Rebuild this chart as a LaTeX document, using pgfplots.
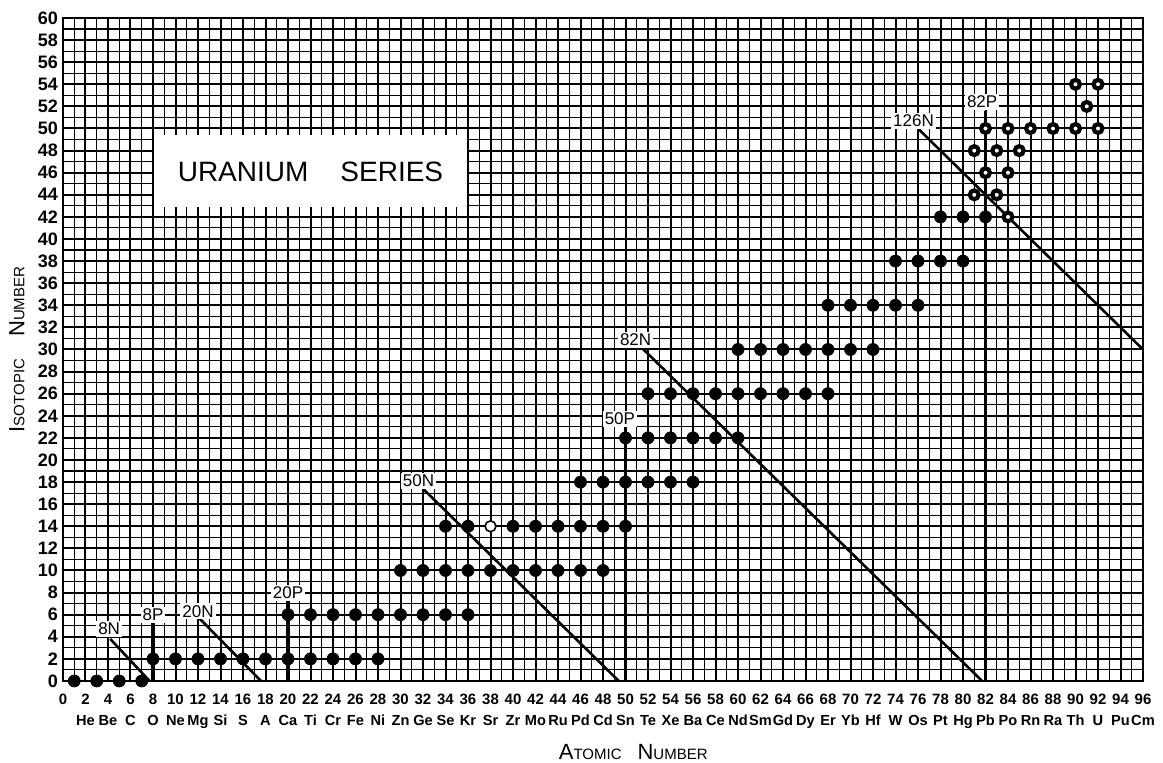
\documentclass[border=0pt]{standalone}
\usepackage{fontspec}
\setmainfont{Liberation Sans}
\usepackage{pgfplots}
\pgfplotsset{compat=1.18}
\newcommand{\bigc}{\fontsize{11}{12}\selectfont}
\newcommand{\smc}{\fontsize{7.5}{9}\selectfont}
\begin{document}
\begin{tikzpicture}
\begin{axis}[
  scale only axis, width=540pt, height=331.5pt,
  xmin=0, xmax=96, ymin=0, ymax=60,
  xtick={0,2,...,96}, ytick={0,2,...,60},
  minor x tick num=1, minor y tick num=1,
  grid=both,
  major grid style={black, line width=1.0pt},
  minor grid style={black, line width=0.55pt},
  major tick length=0pt, minor tick length=0pt,
  axis line style={black, line width=1.2pt},
  /pgf/number format/assume math mode=true,
  xticklabel style={font=\fontsize{7.5}{8}\selectfont\bfseries, yshift=-3pt},
  yticklabel style={font=\fontsize{9}{10}\selectfont\bfseries, xshift=1pt},
  extra x ticks={2,4,...,96},
  extra x tick labels={He,Be,C,O,Ne,Mg,Si,S,A,Ca,Ti,Cr,Fe,Ni,Zn,Ge,Se,Kr,Sr,Zr,Mo,Ru,Pd,Cd,Sn,Te,Xe,Ba,Ce,Nd,Sm,Gd,Dy,Er,Yb,Hf,W,Os,Pt,Hg,Pb,Po,Rn,Ra,Th,U,Pu,Cm},
  extra x tick style={grid=none, xticklabel style={yshift=-7.5pt, font=\fontsize{7.3}{8}\selectfont\bfseries, text height=1.6ex, text depth=0.5ex, inner xsep=0pt}},
  xlabel={{\bigc A}{\smc TOMIC}\hspace{8pt}{\bigc N}{\smc UMBER}},
  ylabel={{\bigc I}{\smc SOTOPIC}\hspace{11pt}{\bigc N}{\smc UMBER}},
  xlabel style={at={(axis description cs:0.528,-0.107)}, anchor=center},
  ylabel style={at={(axis description cs:-0.0426,0.5)}, anchor=center},
  clip=false,
]
% white box for the title
\fill[white] (axis cs:8.1,42.9) rectangle (axis cs:35.9,49.4);
\node[font=\fontsize{14}{16}\selectfont] at (axis cs:22,46.1) {URANIUM\hspace{16pt}SERIES};

% neutron lines
\addplot[black, line width=1.3pt] coordinates {(4.2,3.8) (7.7,0)};
\addplot[black, line width=1.3pt] coordinates {(12,5.8) (17.6,0)};
\addplot[black, line width=1.3pt] coordinates {(32,17.4) (49.4,0)};
\addplot[black, line width=1.3pt] coordinates {(51.3,30.3) (81.7,0)};
\addplot[black, line width=1.3pt] coordinates {(76,50) (96,30)};
% proton lines
\addplot[black, line width=1.6pt] coordinates {(8,0) (8,5.3)};
\addplot[black, line width=1.6pt] coordinates {(20,0) (20,7.3)};
\addplot[black, line width=1.6pt] coordinates {(50,0) (50,23)};
\addplot[black, line width=1.6pt] coordinates {(82,0) (82,51.6)};

% line labels
\begin{scope}[every node/.style={fill=white, inner sep=1pt, font=\fontsize{8.5}{9}\selectfont}]
\node at (axis cs:4.1,4.7) {8N};
\node at (axis cs:8.0,6.0) {8P};
\node at (axis cs:12.0,6.3) {20N};
\node at (axis cs:20.0,8.0) {20P};
\node at (axis cs:31.6,18.1) {50N};
\node at (axis cs:49.5,23.7) {50P};
\node at (axis cs:50.9,30.9) {82N};
\node at (axis cs:81.7,52.4) {82P};
\node at (axis cs:75.6,50.7) {126N};
\end{scope}

% filled circles
\addplot[only marks, mark=*, mark size=3pt, black] coordinates {
(1,0) (3,0) (5,0) (7,0)
(8,2) (10,2) (12,2) (14,2) (16,2) (18,2) (20,2) (22,2) (24,2) (26,2) (28,2)
(20,6) (22,6) (24,6) (26,6) (28,6) (30,6) (32,6) (34,6) (36,6)
(30,10) (32,10) (34,10) (36,10) (38,10) (40,10) (42,10) (44,10) (46,10) (48,10)
(34,14) (36,14) (40,14) (42,14) (44,14) (46,14) (48,14) (50,14)
(46,18) (48,18) (50,18) (52,18) (54,18) (56,18)
(50,22) (52,22) (54,22) (56,22) (58,22) (60,22)
(52,26) (54,26) (56,26) (58,26) (60,26) (62,26) (64,26) (66,26) (68,26)
(60,30) (62,30) (64,30) (66,30) (68,30) (70,30) (72,30)
(68,34) (70,34) (72,34) (74,34) (76,34)
(74,38) (76,38) (78,38) (80,38)
(78,42) (80,42) (82,42)
};
% open circle
\addplot[only marks, mark=*, mark size=2.7pt, mark options={fill=white, draw=black, line width=0.8pt}] coordinates {(38,14)};
% ringed circles
\addplot[only marks, mark=*, mark size=2.2pt, mark options={fill=white, draw=black, line width=2.1pt}] coordinates {
(84,42) (81,44) (83,44) (82,46) (84,46) (81,48) (83,48) (85,48)
(82,50) (84,50) (86,50) (88,50) (90,50) (92,50) (91,52) (90,54) (92,54)
};
\end{axis}
\pgfresetboundingbox
\path (-31.5pt,-41pt) rectangle (550pt,340.5pt);
\end{tikzpicture}
\end{document}
